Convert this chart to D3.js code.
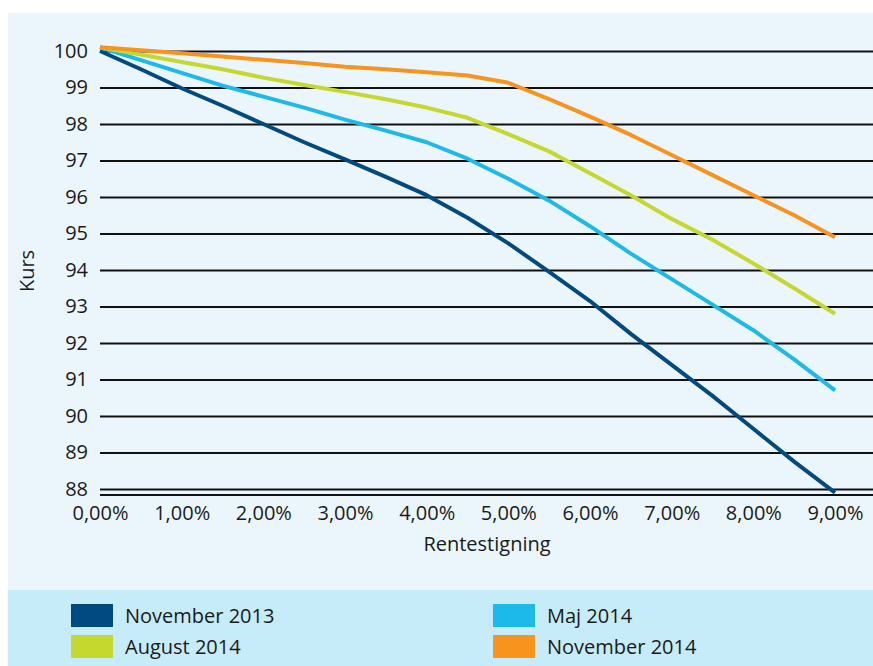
<!DOCTYPE html>
<html>
<head>
<meta charset="utf-8">
<script src="https://cdn.jsdelivr.net/npm/d3@7"></script>
<style>
  html, body { margin: 0; padding: 0; background: #ffffff; }
  svg { display: block; }
  text { font-family: "Open Sans", "DejaVu Sans", sans-serif; fill: #1a1a1a; }
</style>
</head>
<body>
<svg id="chart" width="873" height="666"></svg>
<script>
// Rentestigning (%) on the x axis
const rentestigning = [0, 0.5, 1, 1.5, 2, 2.5, 3, 3.5, 4, 4.5, 5, 5.5, 6, 6.5, 7, 7.5, 8, 8.5, 9];

// Kurs per scenario
const november2013 = [100.0, 99.5, 98.98, 98.5, 98.0, 97.5, 97.03, 96.55, 96.05, 95.43, 94.73, 93.95, 93.15, 92.25, 91.4, 90.55, 89.65, 88.75, 87.9];
const maj2014      = [100.1, 99.75, 99.4, 99.05, 98.75, 98.45, 98.12, 97.82, 97.5, 97.05, 96.5, 95.9, 95.2, 94.45, 93.75, 93.05, 92.35, 91.55, 90.7];
const august2014   = [100.1, 99.9, 99.7, 99.5, 99.27, 99.07, 98.88, 98.68, 98.45, 98.17, 97.72, 97.25, 96.65, 96.05, 95.4, 94.83, 94.18, 93.5, 92.8];
const november2014 = [100.1, 100.02, 99.94, 99.85, 99.76, 99.67, 99.57, 99.5, 99.42, 99.33, 99.13, 98.68, 98.2, 97.7, 97.15, 96.6, 96.05, 95.5, 94.9];

const seriesNames  = ["November 2013", "Maj 2014", "August 2014", "November 2014"];
const seriesColors = ["#004a82", "#1cb9ea", "#c5d82d", "#f7941d"];
const seriesValues = [november2013, maj2014, august2014, november2014];

const xTicks = [0, 1, 2, 3, 4, 5, 6, 7, 8, 9];
const yTicks = [88, 89, 90, 91, 92, 93, 94, 95, 96, 97, 98, 99, 100];

const svg = d3.select("#chart");

// Background panels: plot area and legend band
svg.append("rect").attr("x", 8).attr("y", 13).attr("width", 865).attr("height", 577).attr("fill", "#ebf6fc");
svg.append("rect").attr("x", 8).attr("y", 590).attr("width", 865).attr("height", 76).attr("fill", "#c6ebf9");

const x = d3.scaleLinear().domain([0, 9]).range([100, 835]);
const y = d3.scaleLinear().domain([88, 100]).range([489, 51]);
const plotRight = 873;
const axisY = y(87.835);

// Horizontal gridlines with y tick labels
const yAxis = d3.axisLeft(y)
  .tickValues(yTicks)
  .tickSize(-(plotRight - x(0)))
  .tickPadding(12)
  .tickFormat(d3.format("d"));
const gy = svg.append("g").attr("transform", `translate(${x(0)},0)`).call(yAxis);
gy.select(".domain").remove();
gy.selectAll(".tick line").attr("stroke", "#111").attr("stroke-width", 1.8);
gy.selectAll(".tick text").attr("font-size", 20).attr("fill", "#1a1a1a")
  .style("font-family", '"Open Sans", sans-serif');

// X axis with percentage labels (comma decimal)
const fmtPct = v => d3.format(".2f")(v).replace(".", ",") + "%";
const xAxis = d3.axisBottom(x).tickValues(xTicks).tickSize(0).tickPadding(11).tickFormat(fmtPct);
const gx = svg.append("g").attr("transform", `translate(0,${axisY})`).call(xAxis);
gx.select(".domain").remove();
gx.selectAll(".tick text").attr("font-size", 20).attr("fill", "#1a1a1a")
  .style("font-family", '"Open Sans", sans-serif');
svg.append("line")
  .attr("x1", x(0)).attr("x2", plotRight)
  .attr("y1", axisY).attr("y2", axisY)
  .attr("stroke", "#111").attr("stroke-width", 1.8);

// Axis titles
svg.append("text").attr("x", 487).attr("y", 551).attr("text-anchor", "middle")
  .attr("font-size", 20).text("Rentestigning");
svg.append("text").attr("transform", "translate(34,271) rotate(-90)").attr("text-anchor", "middle")
  .attr("font-size", 20).text("Kurs");

// Series lines
const line = d3.line().x((d, i) => x(rentestigning[i])).y(d => y(d));
seriesValues.forEach((vals, k) => {
  svg.append("path")
    .datum(vals)
    .attr("d", line)
    .attr("fill", "none")
    .attr("stroke", seriesColors[k])
    .attr("stroke-width", 4)
    .attr("stroke-linejoin", "round");
});

// Legend in two columns
const legendPos = [
  { sx: 71, sy: 604, ty: 623 },
  { sx: 493, sy: 604, ty: 623 },
  { sx: 71, sy: 635, ty: 654 },
  { sx: 493, sy: 635, ty: 654 }
];
seriesNames.forEach((name, k) => {
  const p = legendPos[k];
  svg.append("rect").attr("x", p.sx).attr("y", p.sy).attr("width", 42).attr("height", 23)
    .attr("fill", seriesColors[k]);
  svg.append("text").attr("x", p.sx + 54).attr("y", p.ty).attr("font-size", 20)
    .text(name);
});
</script>
</body>
</html>
